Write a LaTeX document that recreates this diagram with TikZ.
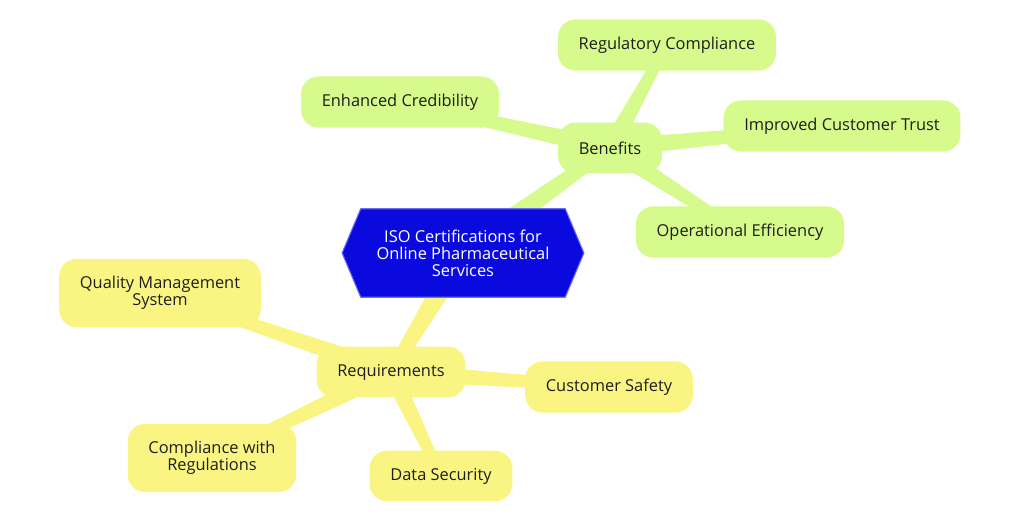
\documentclass[tikz,border=0pt]{standalone}
\usepackage{fontspec}
\setmainfont{Open Sans}
\usetikzlibrary{calc}
\pgfdeclarelayer{bg}
\pgfdeclarelayer{mid}
\pgfsetlayers{bg,mid,main}
\definecolor{leafgreen}{RGB}{214,250,140}
\definecolor{leafyellow}{RGB}{250,245,130}
\definecolor{hexblue}{RGB}{10,10,222}
\definecolor{hexedge}{RGB}{110,110,245}
\definecolor{ink}{RGB}{30,30,30}
\newcommand\taper[5]{\fill[#5] ($(#1)!#3!90:(#2)$) -- ($(#2)!#4!-90:(#1)$) -- ($(#2)!#4!90:(#1)$) -- ($(#1)!#3!-90:(#2)$) -- cycle;}
\begin{document}
\begin{tikzpicture}[x=0.75pt,y=-0.75pt,
  every node/.style={font=\fontsize{12.3}{12.9}\selectfont, text=ink},
  topic/.style={rounded corners=13pt, inner xsep=15.5pt, inner ysep=13pt, minimum height=38pt, align=center},
  gnode/.style={topic, fill=leafgreen},
  ynode/.style={topic, fill=leafyellow},
  rootnode/.style={align=center, text=white, minimum width=153pt, minimum height=66pt, inner sep=0pt},
  hexshape/.style={fill=hexblue, draw=hexedge, line width=0.8pt}
]
\useasboundingbox (0,0) rectangle (1024,522);

\node[rootnode] (root) at (463,253) {ISO Certifications for\\Online Pharmaceutical\\Services};
\begin{pgfonlayer}{mid}
\path[hexshape] (root.north west) -- (root.north east) -- ([xshift=14pt]root.east) -- (root.south east) -- (root.south west) -- ([xshift=-14pt]root.west) -- cycle;
\end{pgfonlayer}

\node[gnode] (ben) at (610,148) {Benefits};
\node[gnode] (regc) at (667,45) {Regulatory Compliance};
\node[gnode] (cred) at (400,102) {Enhanced Credibility};
\node[gnode] (trust) at (842,126) {Improved Customer Trust};
\node[gnode] (oper) at (740,232) {Operational Efficiency};

\node[ynode] (req) at (391,372) {Requirements};
\node[ynode] (qms) at (160,293) {Quality Management\\System};
\node[ynode] (safe) at (609,387) {Customer Safety};
\node[ynode] (compl) at (212,458) {Compliance with\\Regulations};
\node[ynode] (data) at (441,476) {Data Security};

\begin{pgfonlayer}{bg}
\taper{root}{ben}{8.5pt}{4.5pt}{leafgreen}
\taper{ben}{regc}{6.75pt}{3.6pt}{leafgreen}
\taper{ben}{cred}{6.75pt}{3.6pt}{leafgreen}
\taper{ben}{trust}{6.75pt}{3.6pt}{leafgreen}
\taper{ben}{oper}{6.75pt}{3.6pt}{leafgreen}
\taper{root}{req}{8.5pt}{4.5pt}{leafyellow}
\taper{req}{qms}{6.75pt}{3.6pt}{leafyellow}
\taper{req}{safe}{6.75pt}{3.6pt}{leafyellow}
\taper{req}{compl}{6.75pt}{3.6pt}{leafyellow}
\taper{req}{data}{6.75pt}{3.6pt}{leafyellow}
\end{pgfonlayer}
\end{tikzpicture}
\end{document}
